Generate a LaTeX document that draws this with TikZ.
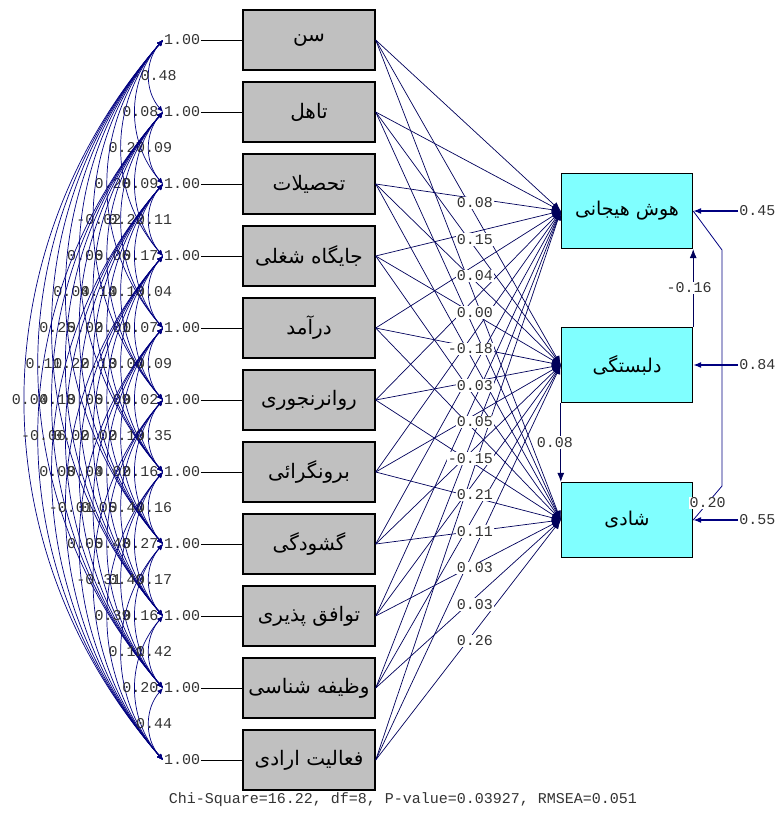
\documentclass[tikz,border=0pt]{standalone}
\usepackage{fontspec}
\setmonofont{Liberation Mono}
\newfontfamily\farsi[Script=Arabic]{DejaVu Sans}
\TeXXeTstate=1
\usetikzlibrary{arrows.meta,positioning}
\definecolor{boxgray}{RGB}{192,192,192}
\definecolor{boxcyan}{RGB}{128,255,255}
\definecolor{pathblue}{RGB}{0,0,128}

\begin{document}
\begin{tikzpicture}[x=1pt,y=-1pt,
	exo/.style={draw,line width=1.4pt,fill=boxgray,minimum width=132pt,minimum height=60pt,inner sep=0pt,font=\farsi\fontsize{20}{22}\selectfont},
	endo/.style={draw,line width=1.4pt,fill=boxcyan,minimum width=131pt,minimum height=75pt,inner sep=0pt,font=\farsi\fontsize{19}{21}\selectfont},
	num/.style={font=\ttfamily\fontsize{15}{16}\selectfont,text=black!80,inner sep=1pt},
	cov/.style={pathblue,line width=0.7pt,{Latex[length=6pt,width=5pt]}-{Latex[length=6pt,width=5pt]}},
	gam/.style={pathblue!70!black,line width=0.7pt,-{Latex[length=9pt,width=7pt]}},
	err/.style={pathblue,line width=1.2pt,-{Latex[length=8pt,width=6pt]}}]
	\useasboundingbox (0,0) rectangle (775,825);

	% exogenous variables
	\foreach \n/\t [count=\i] in {sen/{سن},tahol/{تاهل},tahsil/{تحصیلات},jaygah/{جایگاه شغلی},daramad/{درآمد},ravan/{روانرنجوری},boron/{برونگرائی},goshod/{گشودگی},tavafogh/{توافق پذیری},vazife/{وظیفه شناسی},faal/{فعالیت ارادی}}{
		\node[exo] (\n) at (309,{40+72*(\i-1)}) {\beginR\t\endR};
		\node[num,anchor=west] (v\i) at (163,{40+72*(\i-1)}) {1.00};
		\draw[line width=1pt] (v\i) -- (\n);
	}

	% correlations
	\foreach \i/\j/\v in {1/2/-0.48,1/3/0.08,1/4/0.27,2/3/0.09,1/5/0.20,2/4/0.09,1/6/-0.02,2/5/0.22,3/4/0.11,
		1/7/0.06,2/6/0.06,3/5/0.17,1/8/0.04,2/7/0.14,3/6/0.10,4/5/0.04,1/9/0.25,2/8/0.02,3/7/0.01,4/6/0.07,
		1/10/0.11,2/9/0.22,3/8/0.13,4/7/0.04,5/6/0.09,1/11/0.04,2/10/0.18,3/9/0.06,4/8/0.09,5/7/0.02,
		2/11/-0.06,3/10/0.02,4/9/0.02,5/8/0.19,6/7/0.35,3/11/0.08,4/10/0.04,5/9/0.02,6/8/0.16,
		4/11/-0.01,5/10/0.05,6/9/0.44,7/8/0.16,5/11/0.05,6/10/0.48,7/9/0.27,6/11/-0.31,7/10/0.49,8/9/0.17,
		7/11/0.39,8/10/0.16,8/11/0.11,9/10/0.42,9/11/0.20,10/11/0.44}
		\draw[cov] (v\i.west) to[bend right=41] node[num,xshift=5pt] {\v} (v\j.west);

	% endogenous variables
	\node[endo] (hoosh) at (627,211) {\beginR هوش هیجانی\endR};
	\node[endo] (delbast) at (627,365) {\beginR دلبستگی\endR};
	\node[endo] (shadi) at (627,520) {\beginR شادی\endR};

	\foreach \n in {sen,tahol,tahsil,jaygah,daramad,ravan,boron,goshod,tavafogh,vazife,faal}
		\foreach \t in {hoosh,delbast,shadi}
			\draw[gam] (\n.east) -- (\t.west);
	\foreach \v [count=\k from 0] in {0.08,0.15,0.04,0.00,-0.18,0.03,0.05,-0.15,0.21,0.11,0.03,0.03,0.26}
		\node[num,fill=white,anchor=east] (g\k) at (494,{203+36.5*\k}) {\v};

	\draw[gam] (delbast.north east) -- node[num,fill=white,xshift=-4pt] {-0.16} (hoosh.south east);
	\draw[gam] (delbast.south west) -- node[num,fill=white,xshift=-6pt] {0.08} (shadi.north west);
	\coordinate (c1) at (722,250);
	\coordinate (c2) at (722,486);
	\draw[pathblue,line width=0.8pt] (hoosh.east) -- (c1) -- (c2) -- node[num,fill=white] {0.20} (shadi.east);

	% error variances
	\foreach \t/\v in {hoosh/0.45,delbast/0.84,shadi/0.55}{
		\node[num,anchor=west] (z\t) at ([xshift=45pt]\t.east) {\v};
		\draw[err] (z\t.west) -- (\t.east);
	}

	\node[num] (fit) at (403,800) {Chi-Square=16.22, df=8, P-value=0.03927, RMSEA=0.051};
\end{tikzpicture}
\end{document}
